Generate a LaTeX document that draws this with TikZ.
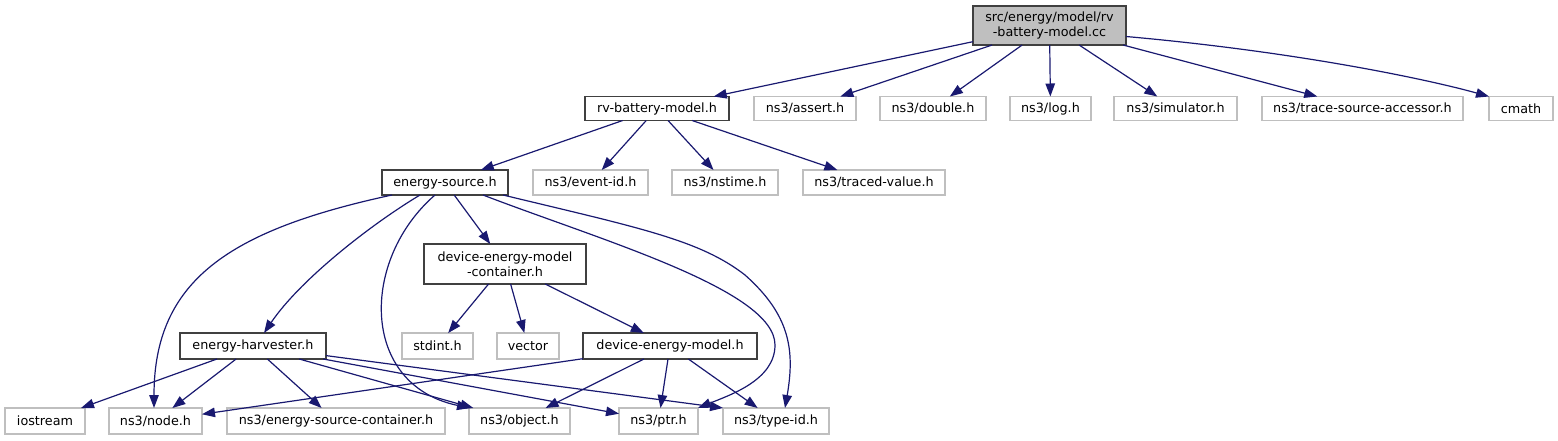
\documentclass[tikz,border=0pt]{standalone}
\usepackage{fontspec}
\setmainfont{DejaVu Sans}
\usetikzlibrary{arrows.meta}
\definecolor{edgec}{HTML}{191970}
\definecolor{boxc}{HTML}{404040}
\definecolor{extc}{HTML}{BFBFBF}
\definecolor{rootc}{HTML}{BFBFBF}
\begin{document}
\begin{tikzpicture}[x=1pt,y=-1pt,
  every node/.style={inner sep=0pt, outer sep=0pt, font=\fontsize{12.75}{15}\selectfont, align=center},
  inc/.style={draw=boxc, line width=1.5pt, fill=white},
  ext/.style={draw=extc, line width=1.2pt, fill=white},
  rootn/.style={draw=boxc, line width=1.5pt, fill=rootc},
  dep/.style={draw=edgec, line width=1.2pt, -{Triangle[length=13pt,width=9.5pt]}}]
\useasboundingbox (0,0) rectangle (1558,440);

% row 1
\node[rootn, minimum width=153pt, minimum height=39pt] (root) at (1049.5,25.5) {src/energy/model/rv\\-battery-model.cc};
% row 2
\node[inc, minimum width=144pt, minimum height=24pt] (rvb) at (657,108.5) {rv-battery-model.h};
\node[ext, minimum width=102pt, minimum height=24pt] (assert) at (805,108.5) {ns3/assert.h};
\node[ext, minimum width=106pt, minimum height=24pt] (double) at (933,108.5) {ns3/double.h};
\node[ext, minimum width=81pt, minimum height=24pt] (log) at (1050.5,108.5) {ns3/log.h};
\node[ext, minimum width=123pt, minimum height=24pt] (sim) at (1175.5,108.5) {ns3/simulator.h};
\node[ext, minimum width=201pt, minimum height=24pt] (tsa) at (1362.5,108.5) {ns3/trace-source-accessor.h};
\node[ext, minimum width=64pt, minimum height=24pt] (cmath) at (1521,108.5) {cmath};
% row 3
\node[inc, minimum width=126pt, minimum height=25pt] (esrc) at (445,182.5) {energy-source.h};
\node[ext, minimum width=115pt, minimum height=25pt] (eventid) at (590.5,182.5) {ns3/event-id.h};
\node[ext, minimum width=106pt, minimum height=25pt] (nstime) at (725,182.5) {ns3/nstime.h};
\node[ext, minimum width=142pt, minimum height=25pt] (traced) at (874,182.5) {ns3/traced-value.h};
% row 4
\node[inc, minimum width=162pt, minimum height=40pt] (demc) at (505,264) {device-energy-model\\-container.h};
% row 5
\node[inc, minimum width=146pt, minimum height=26pt] (eh) at (253,346) {energy-harvester.h};
\node[ext, minimum width=71pt, minimum height=26pt] (stdint) at (437.5,346) {stdint.h};
\node[ext, minimum width=62pt, minimum height=26pt] (vector) at (528,346) {vector};
\node[inc, minimum width=174pt, minimum height=26pt] (dem) at (670,346) {device-energy-model.h};
% row 6
\node[ext, minimum width=80pt, minimum height=26pt] (iostream) at (45,421) {iostream};
\node[ext, minimum width=93pt, minimum height=26pt] (nodeh) at (155.5,421) {ns3/node.h};
\node[ext, minimum width=218pt, minimum height=26pt] (esc) at (336,421) {ns3/energy-source-container.h};
\node[ext, minimum width=101pt, minimum height=26pt] (object) at (519.5,421) {ns3/object.h};
\node[ext, minimum width=79pt, minimum height=26pt] (ptr) at (658.5,421) {ns3/ptr.h};
\node[ext, minimum width=106pt, minimum height=26pt] (typeid) at (776,421) {ns3/type-id.h};

% edges from root
\draw[dep] (root) -- (rvb);
\draw[dep] (root) -- (assert);
\draw[dep] (root) -- (double);
\draw[dep] (root) -- (log);
\draw[dep] (root) -- (sim);
\draw[dep] (root) -- (tsa);
\draw[dep] ([yshift=-11pt]root.east) .. controls (1300,52) and (1430,80) .. (cmath.north west);
% edges from rv-battery-model.h
\draw[dep] (rvb) -- (esrc);
\draw[dep] (rvb) -- (eventid);
\draw[dep] (rvb) -- (nstime);
\draw[dep] (rvb) -- (traced);
% edges from energy-source.h
\draw[dep] ([xshift=-53pt]esrc.south) .. controls (230,230) and (154,280) .. ([xshift=-1.5pt]nodeh.north);
\draw[dep] ([xshift=-25pt]esrc.south) .. controls (370,225) and (300,280) .. ([xshift=11pt]eh.north);
\draw[dep] ([xshift=-10pt]esrc.south) .. controls (360,260) and (360,385) .. ([xshift=1pt]object.north west);
\draw[dep] (esrc) -- (demc);
\coordinate (pmid) at (775,345);
\draw[dep] ([xshift=38pt]esrc.south) .. controls (600,240) and (775,290) .. (pmid) .. controls (775,380) and (730,395) .. (ptr.north east);
\coordinate (tmid) at (745,275);
\draw[dep] ([xshift=58pt]esrc.south) .. controls (640,228) and (700,240) .. (tmid) .. controls (790,315) and (795,350) .. ([xshift=9pt]typeid.north);
% edges from device-energy-model-container.h
\draw[dep] (demc) -- (stdint);
\draw[dep] (demc) -- (vector);
\draw[dep] (demc) -- (dem);
% edges from energy-harvester.h
\draw[dep] (eh) -- (iostream);
\draw[dep] (eh) -- (nodeh);
\draw[dep] (eh) -- (esc);
\draw[dep] (eh) -- (object);
\draw[dep] (eh) -- (ptr);
\draw[dep] (eh) -- (typeid.north west);
% edges from device-energy-model.h
\draw[dep] (dem) -- (nodeh);
\draw[dep] (dem) -- (object);
\draw[dep] (dem) -- (ptr);
\draw[dep] (dem) -- (typeid);
\end{tikzpicture}
\end{document}
